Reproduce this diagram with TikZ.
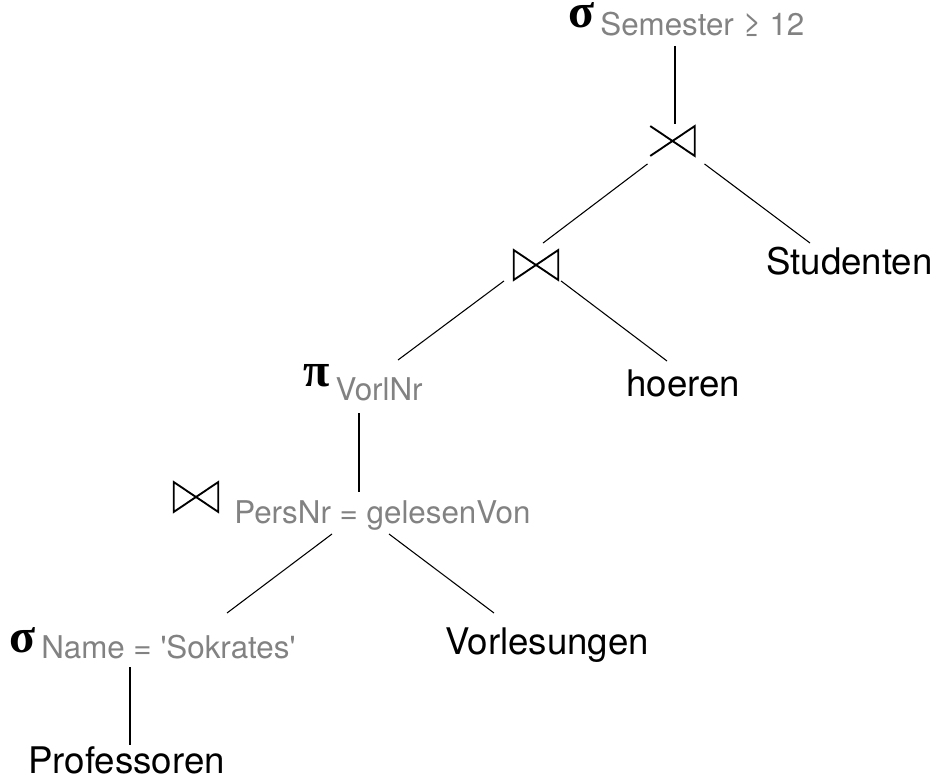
\documentclass[tikz,border=0pt]{standalone}
\usepackage{fontspec}
\setmainfont{TeX Gyre Heros}
\newfontfamily\greekfont{Liberation Serif}
\usetikzlibrary{calc}

\definecolor{condgray}{RGB}{130,130,130}
\newcommand{\opname}[1]{{\greekfont\bfseries\fontsize{36}{36}\selectfont #1}}
\newcommand{\cond}[2]{\hspace{4.5pt}\raisebox{-#1}{\fontsize{23.5}{24}\selectfont\color{condgray}#2}}

\begin{document}
\begin{tikzpicture}[x=0.75pt, y=-0.75pt,
    rel/.style={inner sep=0, anchor=base west, font=\fontsize{27.5}{28}\selectfont},
    op/.style={inner sep=0, anchor=base west},
    opbox/.style={inner sep=0, minimum width=33pt, minimum height=22pt},
    opline/.style={line width=1.4pt, line join=miter},
    edge/.style={line width=0.8pt}]
  \useasboundingbox (0,0) rectangle (935,780);

  % operators
  \node [op] (sel1) at (568,28) {\opname{σ}\cond{5.5pt}{Semester ≥ 12}};
  \node [opbox] (semi) at (672.5,141) {};
  \draw [opline] (semi.north west) -- (semi.south east) -- (semi.north east) -- (semi.south west);
  \node [opbox] (bow) at (536,265) {};
  \draw [opline] (bow.north west) -- (bow.south east) -- (bow.north east) -- (bow.south west) -- cycle;
  \node [op] (proj) at (303,387) {\opname{π}\cond{10pt}{VorlNr}};
  \node [opbox] (pjsym) at (196,497) {};
  \draw [opline] (pjsym.north west) -- (pjsym.south east) -- (pjsym.north east) -- (pjsym.south west) -- cycle;
  \node [op] (pjcond) at (228,523) {\cond{0pt}{PersNr = gelesenVon}};
  \node [op] (sel2) at (9,652) {\opname{σ}\cond{4.5pt}{Name = \textquotesingle Sokrates\textquotesingle}};

  % relations
  \node [rel] (stud) at (766,275) {Studenten};
  \node [rel] (hoer) at (626,397) {hoeren};
  \node [rel] (vorl) at (445,654) {Vorlesungen};
  \node [rel] (prof) at (28,773) {Professoren};

  % edges
  \draw [edge] ($(sel1.base west)+(107,18)$) -- ($(semi.north)+(2.5,-2)$);
  \draw [edge] ($(semi.south)+(-25,8)$) -- ($(bow.north)+(7,-7)$);
  \draw [edge] ($(semi.south)+(32,8)$) -- ($(stud.base west)+(44,-32)$);
  \draw [edge] ($(bow.south)+(-32,1)$) -- ($(proj.base west)+(95,-27)$);
  \draw [edge] ($(bow.south)+(25,1)$) -- ($(hoer.base west)+(41,-36)$);
  \draw [edge] ($(proj.base west)+(56,26)$) -- ($(pjcond.base west)+(131,-31)$);
  \draw [edge] ($(pjcond.base west)+(104,11)$) -- ($(sel2.base west)+(218,-39)$);
  \draw [edge] ($(pjcond.base west)+(161,11)$) -- ($(vorl.base west)+(49,-41)$);
  \draw [edge] ($(sel2.base west)+(121,15)$) -- ($(prof.base west)+(102,-28)$);
\end{tikzpicture}
\end{document}
